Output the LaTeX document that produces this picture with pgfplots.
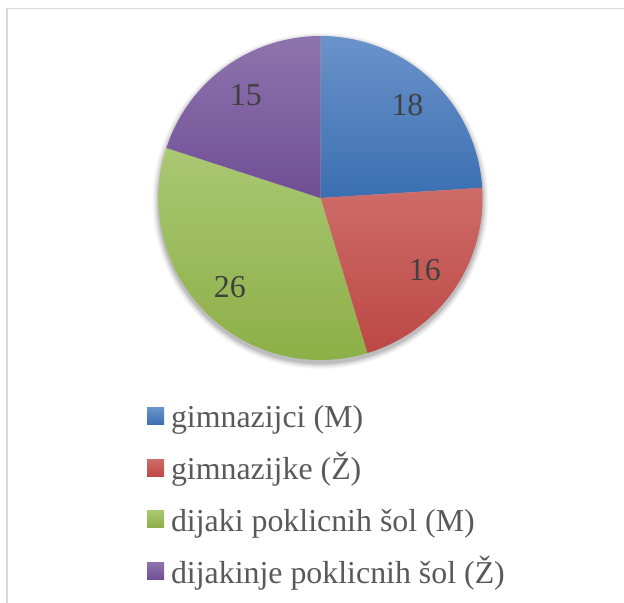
\documentclass[border=0pt]{standalone}
\usepackage{pgfplots}
\pgfplotsset{compat=1.18}
\usepackage{fontspec}
\setmainfont{Liberation Serif}
\definecolor{frame}{HTML}{D9D9D9}
\definecolor{btop}{HTML}{6A93CA}\definecolor{bbot}{HTML}{3B6FB2}
\definecolor{rtop}{HTML}{CD6C69}\definecolor{rbot}{HTML}{BD4845}
\definecolor{gtop}{HTML}{A9C872}\definecolor{gbot}{HTML}{8DAF47}
\definecolor{ptop}{HTML}{8E74AE}\definecolor{pbot}{HTML}{704E95}
\definecolor{lbl}{HTML}{404040}
\definecolor{legtext}{HTML}{595959}
% data
\def\valA{18}\def\valB{16}\def\valC{26}\def\valD{15}
\pgfmathsetmacro\tot{\valA+\valB+\valC+\valD}
\pgfmathsetmacro\angA{90}
\pgfmathsetmacro\angB{\angA-360*\valA/\tot}
\pgfmathsetmacro\angC{\angB-360*\valB/\tot}
\pgfmathsetmacro\angD{\angC-360*\valC/\tot}
\pgfmathsetmacro\angE{\angD-360*\valD/\tot}
\def\cx{320.5}\def\cy{405}\def\R{162}\def\rl{127}
\newcommand\slice[4]{%
  \addplot[draw=none, top color=#3, bottom color=#4, domain=#2:#1, samples=90, variable=\t]
    ({\cx+\R*cos(\t)},{\cy+\R*sin(\t)}) -- (axis cs:\cx,\cy) -- cycle;}
\newcommand\shadowring[2]{%
  \addplot[forget plot, draw=none, fill=black, fill opacity=#2, domain=0:360, samples=120, variable=\t]
    ({\cx+(\R+#1)*cos(\t)},{\cy-3+(\R+#1)*sin(\t)}) -- cycle;}
\newcommand\slicelabel[3]{%
  \pgfmathsetmacro\lx{\cx+\rl*cos((#1+#2)/2)}%
  \pgfmathsetmacro\ly{\cy+\rl*sin((#1+#2)/2)}%
  \edef\tmp{\noexpand\node[text=lbl, font=\noexpand\fontsize{32}{38}\noexpand\selectfont, inner sep=0pt, anchor=center]
    at (axis cs:\lx,\ly) {#3};}\tmp}
\begin{document}
\begin{tikzpicture}
\useasboundingbox (0,0) rectangle (624bp,603bp);
\draw[frame, line width=1.5bp] (7bp,-20bp) -- (7bp,594.5bp) -- (660bp,594.5bp);
\begin{axis}[at={(0,0)}, anchor=south west, scale only axis,
  width=624bp, height=603bp, xmin=0, xmax=624, ymin=0, ymax=603,
  hide axis, clip=false,
  legend cell align=left,
  legend image code/.code={\path[#1,draw=none] (0bp,-4bp) rectangle (17bp,13bp);},
  legend style={at={(axis cs:147,198)}, anchor=north west, draw=none, fill=none,
    inner sep=0pt, outer sep=0pt, row sep=20.7bp, column sep=7bp,
    font=\fontsize{32}{36}\selectfont, text=legtext,
    nodes={inner sep=0pt, text height=23bp, text depth=8bp}},
]
\shadowring{6}{0.03}
\shadowring{5}{0.03}
\shadowring{4}{0.04}
\shadowring{3}{0.05}
\shadowring{2}{0.06}
\shadowring{1}{0.08}
\slice{\angA}{\angB}{btop}{bbot}
\addlegendentry{gimnazijci (M)}
\slice{\angB}{\angC}{rtop}{rbot}
\addlegendentry{gimnazijke (Ž)}
\slice{\angC}{\angD}{gtop}{gbot}
\addlegendentry{dijaki poklicnih šol (M)}
\slice{\angD}{\angE}{ptop}{pbot}
\addlegendentry{dijakinje poklicnih šol (Ž)}
\slicelabel{\angA}{\angB}{18}
\slicelabel{\angB}{\angC}{16}
\slicelabel{\angC}{\angD}{26}
\slicelabel{\angD}{\angE}{15}
\end{axis}
\end{tikzpicture}
\end{document}
